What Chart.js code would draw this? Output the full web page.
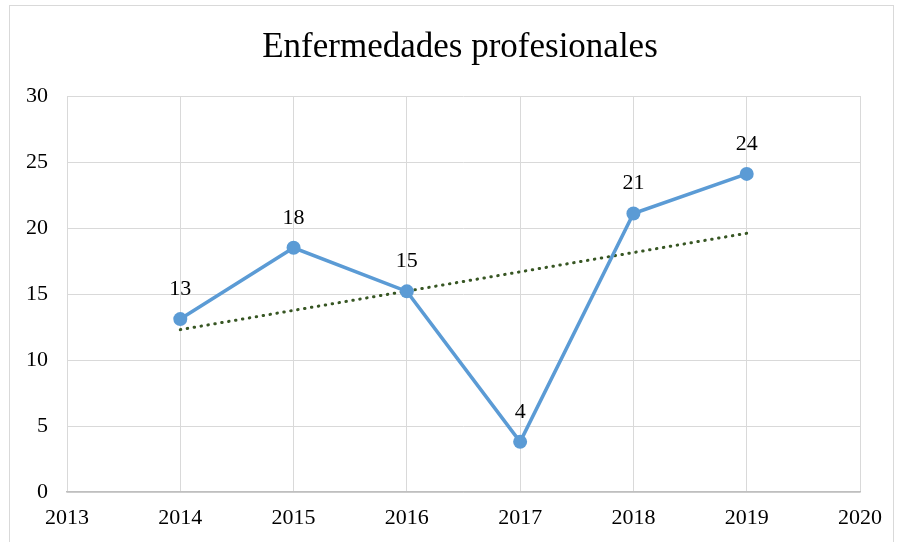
<!DOCTYPE html>
<html>
<head>
<meta charset="utf-8">
<script src="https://cdn.jsdelivr.net/npm/chart.js@4"></script>
<style>
  body { margin: 0; background: #fff; }
  #wrap { width: 900px; height: 542px; }
</style>
</head>
<body>
<div id="wrap"><canvas id="lineChart" width="900" height="542"></canvas></div>
<script>
    // Data
    var years = [2014, 2015, 2016, 2017, 2018, 2019];
    var cases = [13.1, 18.5, 15.2, 3.8, 21.1, 24.1];
    var caseLabels = ['13', '18', '15', '4', '21', '24'];
    var trendYears = [2014, 2019];
    var trendValues = [12.3, 19.6];
    var yTicks = [0, 5, 10, 15, 20, 25, 30];
    var chartTitle = 'Enfermedades profesionales';

    var serif = "'Times New Roman', 'Liberation Serif', serif";

    // Outer frame and title, placed like the office chart
    var framePlugin = {
        id: 'frame',
        beforeDraw: function(chart) {
            var c = chart.ctx;
            c.save();
            c.fillStyle = '#fff';
            c.fillRect(0, 0, chart.width, chart.height);
            c.strokeStyle = '#d9d9d9';
            c.lineWidth = 1;
            c.strokeRect(9.5, 5.5, 884, 560);
            c.font = '35px ' + serif;
            c.fillStyle = '#000';
            c.textAlign = 'center';
            c.textBaseline = 'alphabetic';
            c.fillText(chartTitle, 460, 57);
            c.restore();
        }
    };

    // Value labels above the points
    var labelPlugin = {
        id: 'pointLabels',
        afterDatasetsDraw: function(chart) {
            var c = chart.ctx;
            var meta = chart.getDatasetMeta(0);
            c.save();
            c.font = '22px ' + serif;
            c.fillStyle = '#000';
            c.textAlign = 'center';
            c.textBaseline = 'middle';
            meta.data.forEach(function(pt, i) {
                c.fillText(caseLabels[i], pt.x, pt.y - 30);
            });
            c.restore();
        }
    };

    var ctx = document.getElementById('lineChart').getContext('2d');

    var myChart = new Chart(ctx, {
        type: 'line',
        data: {
            datasets: [{
                label: chartTitle,
                data: years.map(function(y, i) { return { x: y, y: cases[i] }; }),
                borderColor: '#5b9bd5',
                backgroundColor: '#5b9bd5',
                borderWidth: 3.5,
                pointRadius: 7,
                pointHoverRadius: 7,
                pointBorderWidth: 0,
                fill: false,
                order: 1
            }, {
                label: 'Tendencia',
                data: trendYears.map(function(y, i) { return { x: y, y: trendValues[i] }; }),
                borderColor: '#375623',
                borderWidth: 3,
                borderDash: [0.5, 6.5],
                borderCapStyle: 'round',
                pointRadius: 0,
                fill: false,
                order: 2
            }]
        },
        options: {
            responsive: false,
            animation: false,
            layout: { padding: { left: 9, right: 40, top: 96, bottom: 0 } },
            plugins: {
                legend: { display: false },
                tooltip: { enabled: false },
                title: { display: false }
            },
            scales: {
                x: {
                    type: 'linear',
                    min: 2013,
                    max: 2020,
                    afterFit: function(s) { s.height = 50; },
                    ticks: {
                        stepSize: 1,
                        color: '#000',
                        padding: 13,
                        font: { family: serif, size: 22 },
                        callback: function(v) { return String(v); }
                    },
                    grid: { color: '#d9d9d9', lineWidth: 1, drawTicks: false },
                    border: { color: '#bfbfbf', width: 1.5 }
                },
                y: {
                    min: 0,
                    max: 30,
                    afterFit: function(s) { s.width = 58; },
                    afterBuildTicks: function(s) {
                        s.ticks = yTicks.map(function(v) { return { value: v }; });
                    },
                    ticks: {
                        color: '#000',
                        padding: 19,
                        font: { family: serif, size: 22 }
                    },
                    grid: { color: '#d9d9d9', lineWidth: 1, drawTicks: false },
                    border: { display: false }
                }
            }
        },
        plugins: [framePlugin, labelPlugin]
    });
</script>
</body>
</html>
